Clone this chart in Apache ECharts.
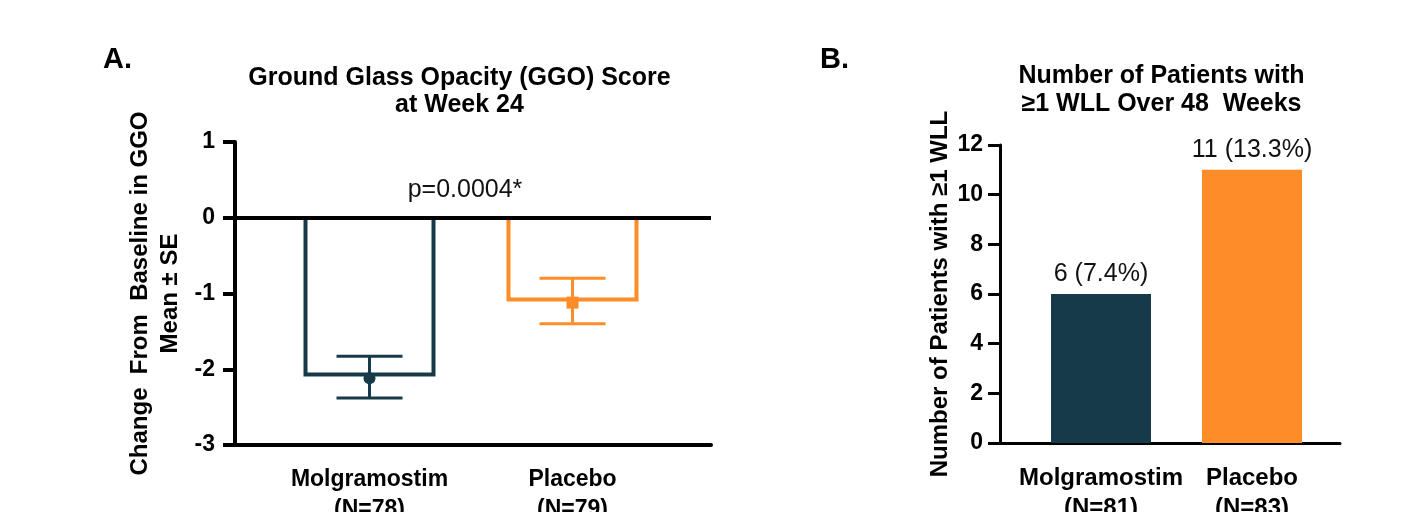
<!DOCTYPE html>
<html><head><meta charset="utf-8">
<script src="https://cdn.jsdelivr.net/npm/echarts@6/dist/echarts.min.js"></script>
<style>html,body{margin:0;padding:0;background:#fff}#c{width:1402px;height:512px}</style>
</head><body><div id="c"></div>
<script>
// ---- data ----
const groups = ['Molgramostim', 'Placebo'];
const nGGO = [78, 79];
const nWLL = [81, 83];
const ggoBar = [-2.07, -1.08];
const ggoMean = [-2.12, -1.12];
const ggoLow = [-2.38, -1.40];
const ggoHigh = [-1.83, -0.80];
const ggoAxis = [-3, 1, 1];     // min, max, interval
const wllCount = [6, 11];
const wllPct = [7.4, 13.3];
const wllAxis = [0, 12, 2];     // min, max, interval
const pText = 'p=0.0004*';

// ---- styles ----
const FONT = "'Liberation Sans', Arial, Helvetica, sans-serif";
const colors = ['#173a4b', '#fe8c28'];
const labelsA = groups.map((g, i) => g + '\n(N=' + nGGO[i] + ')');
const labelsB = groups.map((g, i) => g + '\n(N=' + nWLL[i] + ')');

const chart = echarts.init(document.getElementById('c'), null, {renderer: 'canvas'});

const hiddenVal = (gi, w) => ({
  gridIndex: gi, type: 'value', min: 0, max: 1,
  axisLine: {show: true, onZero: false, lineStyle: {color: '#000', width: w}},
  axisTick: {show: false}, axisLabel: {show: false}, splitLine: {show: false}
});
const catAxis = (gi, data, fs) => ({
  gridIndex: gi, type: 'category', data: data,
  axisLine: {show: false}, axisTick: {show: false}, splitLine: {show: false},
  axisLabel: {color: '#000', fontFamily: FONT, fontWeight: 'bold', fontSize: fs, lineHeight: 30, margin: 20, interval: 0}
});
const G = (l, t, w, h) => ({left: l, top: t, width: w, height: h, containLabel: false, outerBoundsMode: 'none'});

const option = {
  animation: false,
  backgroundColor: '#fff',
  grid: [
    G(235, 142, 476, 303),
    G(268, 142, 406, 303),
    G(1000, 145, 340, 298),
    G(1025.5, 145, 302, 298)
  ],
  xAxis: [
    hiddenVal(0, 4),
    catAxis(1, labelsA, 23),
    hiddenVal(2, 3),
    catAxis(3, labelsB, 24)
  ],
  yAxis: [
    {
      gridIndex: 0, type: 'value', min: ggoAxis[0], max: ggoAxis[1], interval: ggoAxis[2],
      axisLine: {show: true, onZero: false, lineStyle: {color: '#000', width: 4}},
      axisTick: {show: true, length: 12, lineStyle: {color: '#000', width: 4}},
      axisLabel: {color: '#000', fontFamily: FONT, fontWeight: 'bold', fontSize: 23, margin: 20},
      splitLine: {show: false},
      name: 'Change  From  Baseline in GGO\nMean ± SE',
      nameLocation: 'middle', nameGap: 50, nameRotate: 90,
      nameTextStyle: {color: '#000', fontFamily: FONT, fontWeight: 'bold', fontSize: 24, lineHeight: 30, align: 'center'}
    },
    {gridIndex: 1, type: 'value', min: ggoAxis[0], max: ggoAxis[1], show: false},
    {
      gridIndex: 2, type: 'value', min: wllAxis[0], max: wllAxis[1], interval: wllAxis[2],
      axisLine: {show: true, onZero: false, lineStyle: {color: '#000', width: 3}},
      axisTick: {show: true, length: 12, lineStyle: {color: '#000', width: 3}},
      axisLabel: {color: '#000', fontFamily: FONT, fontWeight: 'bold', fontSize: 23, margin: 17},
      splitLine: {show: false},
      name: 'Number of Patients with ≥1 WLL',
      nameLocation: 'middle', nameGap: 48, nameRotate: 90,
      nameTextStyle: {color: '#000', fontFamily: FONT, fontWeight: 'bold', fontSize: 24}
    },
    {gridIndex: 3, type: 'value', min: wllAxis[0], max: wllAxis[1], show: false}
  ],
  series: [
    {
      // open (outline-only) bars hanging from zero
      type: 'custom', xAxisIndex: 1, yAxisIndex: 1, z: 2,
      encode: {x: 0, y: 1},
      data: groups.map((g, i) => [i, ggoBar[i]]),
      renderItem: function (params, api) {
        const x = api.value(0);
        const top = api.coord([x, 0]);
        const bot = api.coord([x, api.value(1)]);
        const hw = 64;
        return {
          type: 'polyline',
          shape: {points: [[top[0] - hw, top[1]], [bot[0] - hw, bot[1]], [bot[0] + hw, bot[1]], [top[0] + hw, top[1]]]},
          style: {stroke: colors[params.dataIndex], lineWidth: 4, fill: null, lineJoin: 'miter'}
        };
      }
    },
    {
      type: 'custom', xAxisIndex: 1, yAxisIndex: 1, z: 3,
      encode: {x: 0, y: [1, 2]},
      data: groups.map((g, i) => [i, ggoLow[i], ggoHigh[i]]),
      renderItem: function (params, api) {
        const x = api.value(0);
        const lo = api.coord([x, api.value(1)]);
        const hi = api.coord([x, api.value(2)]);
        const c = colors[params.dataIndex];
        const hw = 33;
        const st = {stroke: c, lineWidth: 3};
        return {type: 'group', children: [
          {type: 'line', shape: {x1: lo[0], y1: lo[1], x2: hi[0], y2: hi[1]}, style: st},
          {type: 'line', shape: {x1: lo[0] - hw, y1: lo[1], x2: lo[0] + hw, y2: lo[1]}, style: st},
          {type: 'line', shape: {x1: hi[0] - hw, y1: hi[1], x2: hi[0] + hw, y2: hi[1]}, style: st}
        ]};
      }
    },
    {
      type: 'scatter', xAxisIndex: 1, yAxisIndex: 1, z: 4,
      data: ggoMean.map((v, i) => ({value: [i, v], symbol: i === 0 ? 'circle' : 'rect', symbolSize: 12, itemStyle: {color: colors[i], opacity: 1}}))
    },
    {
      type: 'line', xAxisIndex: 0, yAxisIndex: 0, data: [], z: 10,
      markLine: {silent: true, symbol: ['none', 'none'], label: {show: false}, animation: false,
        lineStyle: {color: '#000', width: 4, type: 'solid'}, data: [{yAxis: 0}]}
    },
    {
      type: 'bar', xAxisIndex: 3, yAxisIndex: 3, barWidth: 100,
      data: wllCount.map((v, i) => ({value: v, itemStyle: {color: colors[i]}})),
      label: {show: true, position: 'top', distance: 7, color: '#111', fontFamily: FONT, fontSize: 25,
        formatter: p => wllCount[p.dataIndex] + ' (' + wllPct[p.dataIndex] + '%)'}
    }
  ],
  graphic: [
    {type: 'text', x: 103, y: 45, style: {text: 'A.', fontFamily: FONT, fontWeight: 'bold', fontSize: 29, fill: '#000'}},
    {type: 'text', x: 820, y: 45, style: {text: 'B.', fontFamily: FONT, fontWeight: 'bold', fontSize: 29, fill: '#000'}},
    {type: 'text', x: 459.5, y: 65, style: {text: 'Ground Glass Opacity (GGO) Score\nat Week 24', fontFamily: FONT, fontWeight: 'bold', fontSize: 25, lineHeight: 27, align: 'center', verticalAlign: 'top', fill: '#000'}},
    {type: 'text', x: 1161.5, y: 62, style: {text: 'Number of Patients with\n≥1 WLL Over 48  Weeks', fontFamily: FONT, fontWeight: 'bold', fontSize: 25, lineHeight: 28, align: 'center', verticalAlign: 'top', fill: '#000'}},
    {type: 'text', x: 465, y: 178, style: {text: pText, fontFamily: FONT, fontSize: 25, align: 'center', verticalAlign: 'top', fill: '#111'}}
  ]
};
chart.setOption(option);
</script>
</body></html>
